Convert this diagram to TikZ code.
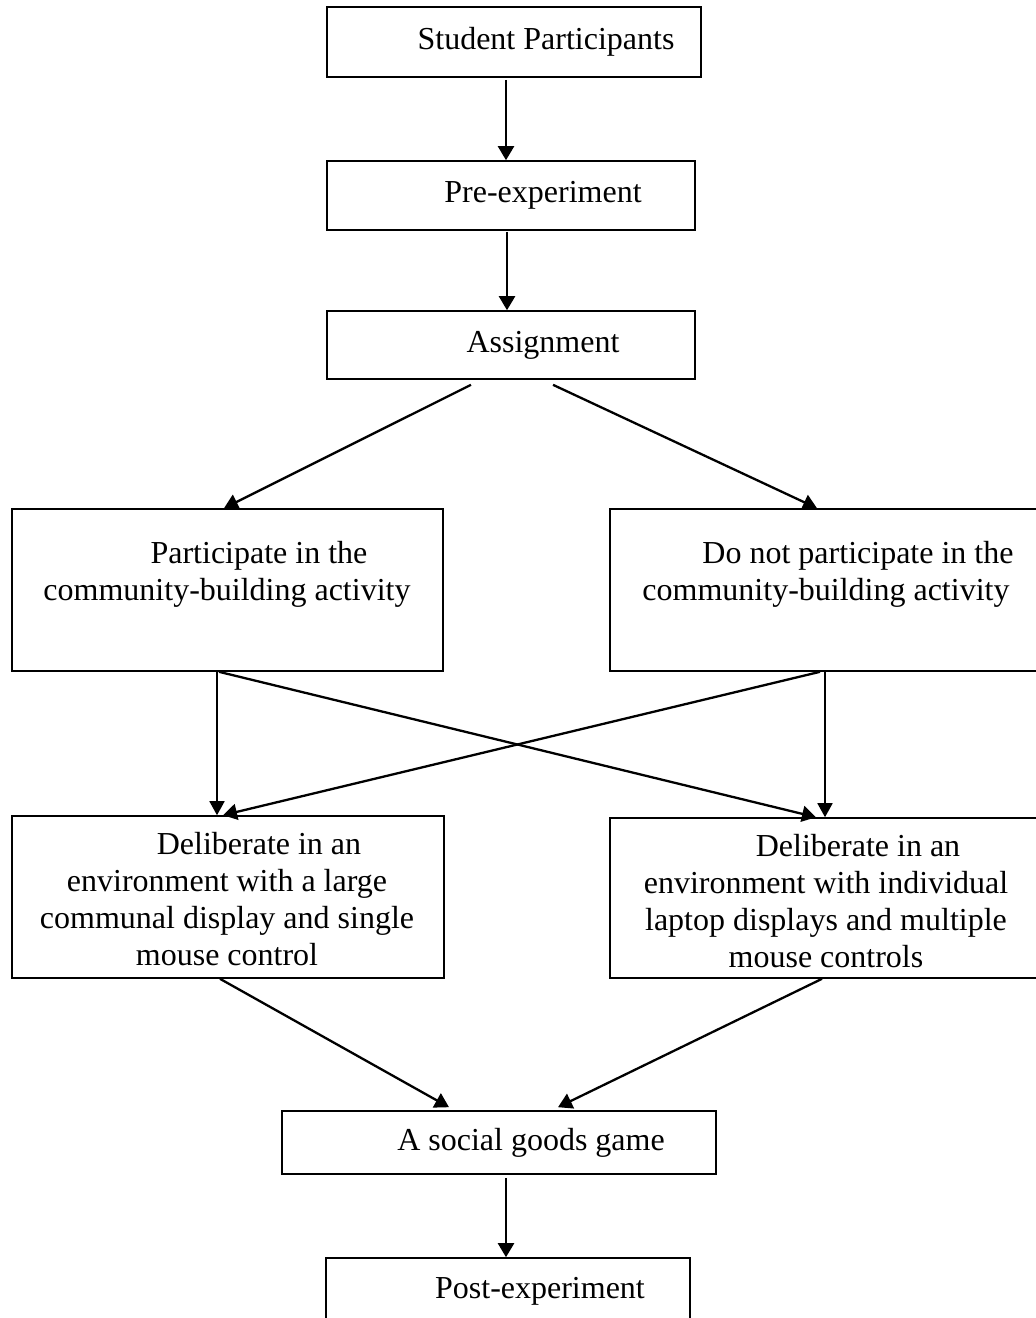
\documentclass[tikz,border=0pt]{standalone}
\usepackage{fontspec}
\setmainfont{Liberation Serif}
\usetikzlibrary{arrows.meta,calc}
\tikzset{
  box/.style={draw, line width=0.8pt, rectangle, inner sep=0pt, align=center,
              font=\fontsize{16}{18.4}\selectfont},
  txt/.style={inner sep=0pt, align=center, font=\fontsize{16}{18.4}\selectfont},
  arr/.style={line width=1.15pt, -{Triangle[length=7pt,width=8pt]}},
  arrthin/.style={line width=0.9pt, -{Triangle[length=7pt,width=7.5pt]}}
}
\begin{document}
\begin{tikzpicture}[x=0.5pt,y=-0.5pt]
\clip (0,0) rectangle (1036,1318);
\fill[white] (0,0) rectangle (1036,1318);

% boxes
\node[box, minimum width=187pt, minimum height=35pt] (b1) at (514,42) {\hspace*{32pt}Student Participants};
\node[box, minimum width=184pt, minimum height=34.5pt] (b2) at (511,195.5) {\hspace*{32pt}Pre-experiment};
\node[box, minimum width=184pt, minimum height=34pt] (b3) at (511,345) {\hspace*{32pt}Assignment};
\node[box, minimum width=215.5pt, minimum height=81pt] (b4l) at (227.5,590) {};
\node[box, minimum width=217.5pt, minimum height=81pt] (b4r) at (827.5,590) {};
\node[box, minimum width=216pt, minimum height=81pt] (b5l) at (228,897) {};
\node[box, minimum width=217.5pt, minimum height=80pt] (b5r) at (827.5,898) {};
\node[box, minimum width=217pt, minimum height=31.5pt] (b6) at (499,1142.5) {\hspace*{32pt}A social goods game};
\node[box, minimum width=182pt, minimum height=33pt] (b7) at (508,1291) {\hspace*{32pt}Post-experiment};

% multi-line texts
\node[txt] (t4l) at (227,574) {\hspace*{32pt}Participate in the\\community-building activity};
\node[txt] (t4r) at (826,574) {\hspace*{32pt}Do not participate in the\\community-building activity};
\node[txt] (t5l) at (227,899) {\hspace*{32pt}Deliberate in an\\environment with a large\\communal display and single\\mouse control};
\node[txt] (t5r) at (826,901) {\hspace*{32pt}Deliberate in an\\environment with individual\\laptop displays and multiple\\mouse controls};

% connectors
\draw[arr] ($(b1.south)+(-8,2)$) -- ($(b2.north)+(-5,0)$);
\draw[arr] ($(b2.south)+(-4,1)$) -- ($(b3.north)+(-4,0)$);
\draw[arr] ($(b3.south)+(-40,5)$) -- ($(b4l.north)+(-3.5,0)$);
\draw[arr] ($(b3.south)+(42,5)$) -- ($(b4r.north)+(-10.5,0)$);
\draw[arrthin] ($(b4l.south)+(-10.5,0)$) -- ($(b5l.north)+(-11,0)$);
\draw[arr] ($(b4l.south)+(-8.5,0)$) -- ($(b5r.north)+(-11.5,0)$);
\draw[arrthin] ($(b4r.south)+(-2.5,0)$) -- ($(b5r.north)+(-2.5,0)$);
\draw[arr] ($(b4r.south)+(-7.5,0)$) -- ($(b5l.north)+(-5,0)$);
\draw[arr] ($(b5l.south)+(-8,0)$) -- ($(b6.north)+(-50,-3)$);
\draw[arr] ($(b5r.south)+(-5.5,0)$) -- ($(b6.north)+(59,-3)$);
\draw[arr] ($(b6.south)+(7,3)$) -- ($(b7.north)+(-2,0)$);
\end{tikzpicture}
\end{document}
